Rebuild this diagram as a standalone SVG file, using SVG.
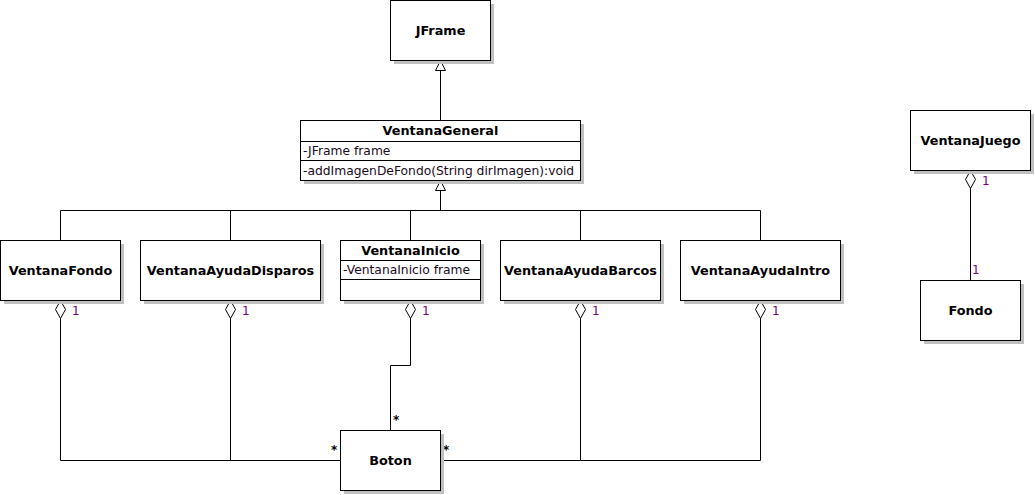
<svg xmlns="http://www.w3.org/2000/svg" width="1035" height="495" viewBox="0 0 1035 495">
<style>
.box{fill:#fff;stroke:#000;stroke-width:1}
.sh{fill:#c0c0c0}
.nm{font-family:"DejaVu Sans",sans-serif;font-size:12.8px;font-weight:bold;fill:#000;text-anchor:middle}
.at{font-family:"DejaVu Sans",sans-serif;font-size:12.3px;fill:#1a0a1a}
.ln{fill:none;stroke:#000;stroke-width:1}
.mul{font-family:"DejaVu Sans",sans-serif;font-size:12px;fill:#800080}
.st{font-family:"DejaVu Sans",sans-serif;font-size:12px;font-weight:bold;fill:#000}
</style>
<defs>
<path id="dia" d="M0,0 L5,9 L0,18 L-5,9 Z" fill="#fff" stroke="#000"/>
<path id="tri" d="M0,0 L5,10 L-5,10 Z" fill="#fff" stroke="#000"/>
</defs>
<g id="connectors">
<path class="ln" d="M440.5,70 V120"/>
<path class="ln" d="M440.5,190 V210.5 M60.5,210.5 H760.5 M60.5,210.5 V240 M230.5,210.5 V240 M410.5,210.5 V240 M580.5,210.5 V240 M760.5,210.5 V240"/>
<use href="#tri" x="440.5" y="60.5"/>
<use href="#tri" x="440.5" y="180.5"/>
<path class="ln" d="M60.5,318 V460.5 H340"/>
<path class="ln" d="M230.5,318 V460.5"/>
<path class="ln" d="M410.5,318 V365.5 H390.5 V430"/>
<path class="ln" d="M580.5,318 V460.5 H440"/>
<path class="ln" d="M760.5,318 V460.5 H580.5"/>
<path class="ln" d="M970.5,188 V280"/>
<use href="#dia" x="60.5" y="300.5"/>
<use href="#dia" x="230.5" y="300.5"/>
<use href="#dia" x="410.5" y="300.5"/>
<use href="#dia" x="580.5" y="300.5"/>
<use href="#dia" x="760.5" y="300.5"/>
<use href="#dia" x="970.5" y="170.5"/>
<text class="mul" x="72" y="315">1</text>
<text class="mul" x="242" y="315">1</text>
<text class="mul" x="422" y="315">1</text>
<text class="mul" x="592" y="315">1</text>
<text class="mul" x="772" y="315">1</text>
<text class="mul" x="982" y="185">1</text>
<text class="mul" x="972" y="274">1</text>
<text class="st" x="331" y="454">*</text>
<text class="st" x="393" y="424">*</text>
<text class="st" x="443" y="454">*</text>
</g>
<g id="JFrame">
<rect class="sh" x="394" y="4" width="100" height="60"/>
<rect class="box" x="390.5" y="0.5" width="100" height="60"/>
<text class="nm" x="440.5" y="35">JFrame</text>
</g>
<g id="VentanaGeneral">
<rect class="sh" x="304" y="124" width="280" height="60"/>
<rect class="box" x="300.5" y="120.5" width="280" height="60"/>
<path class="ln" d="M300.5,141.5 H580.5 M300.5,160.5 H580.5"/>
<text class="nm" x="440.5" y="135">VentanaGeneral</text>
<text class="at" x="303" y="155">-JFrame frame</text>
<text class="at" x="303" y="175">-addImagenDeFondo(String dirImagen):void</text>
</g>
<g id="VentanaFondo">
<rect class="sh" x="4" y="244" width="120" height="60"/>
<rect class="box" x="0.5" y="240.5" width="120" height="60"/>
<text class="nm" x="60.5" y="275">VentanaFondo</text>
</g>
<g id="VentanaAyudaDisparos">
<rect class="sh" x="144" y="244" width="180" height="60"/>
<rect class="box" x="140.5" y="240.5" width="180" height="60"/>
<text class="nm" x="230.5" y="275">VentanaAyudaDisparos</text>
</g>
<g id="VentanaInicio">
<rect class="sh" x="344" y="244" width="140" height="60"/>
<rect class="box" x="340.5" y="240.5" width="140" height="60"/>
<path class="ln" d="M340.5,260.5 H480.5 M340.5,279.5 H480.5"/>
<text class="nm" x="410.5" y="255">VentanaInicio</text>
<text class="at" x="343" y="274">-VentanaInicio frame</text>
</g>
<g id="VentanaAyudaBarcos">
<rect class="sh" x="504" y="244" width="160" height="60"/>
<rect class="box" x="500.5" y="240.5" width="160" height="60"/>
<text class="nm" x="580.5" y="275">VentanaAyudaBarcos</text>
</g>
<g id="VentanaAyudaIntro">
<rect class="sh" x="684" y="244" width="160" height="60"/>
<rect class="box" x="680.5" y="240.5" width="160" height="60"/>
<text class="nm" x="760.5" y="275">VentanaAyudaIntro</text>
</g>
<g id="Boton">
<rect class="sh" x="344" y="434" width="100" height="60"/>
<rect class="box" x="340.5" y="430.5" width="100" height="60"/>
<text class="nm" x="390.5" y="465">Boton</text>
</g>
<g id="VentanaJuego">
<rect class="sh" x="914" y="114" width="120" height="60"/>
<rect class="box" x="910.5" y="110.5" width="120" height="60"/>
<text class="nm" x="970.5" y="145">VentanaJuego</text>
</g>
<g id="Fondo">
<rect class="sh" x="924" y="284" width="100" height="60"/>
<rect class="box" x="920.5" y="280.5" width="100" height="60"/>
<text class="nm" x="970.5" y="315">Fondo</text>
</g>
</svg>
